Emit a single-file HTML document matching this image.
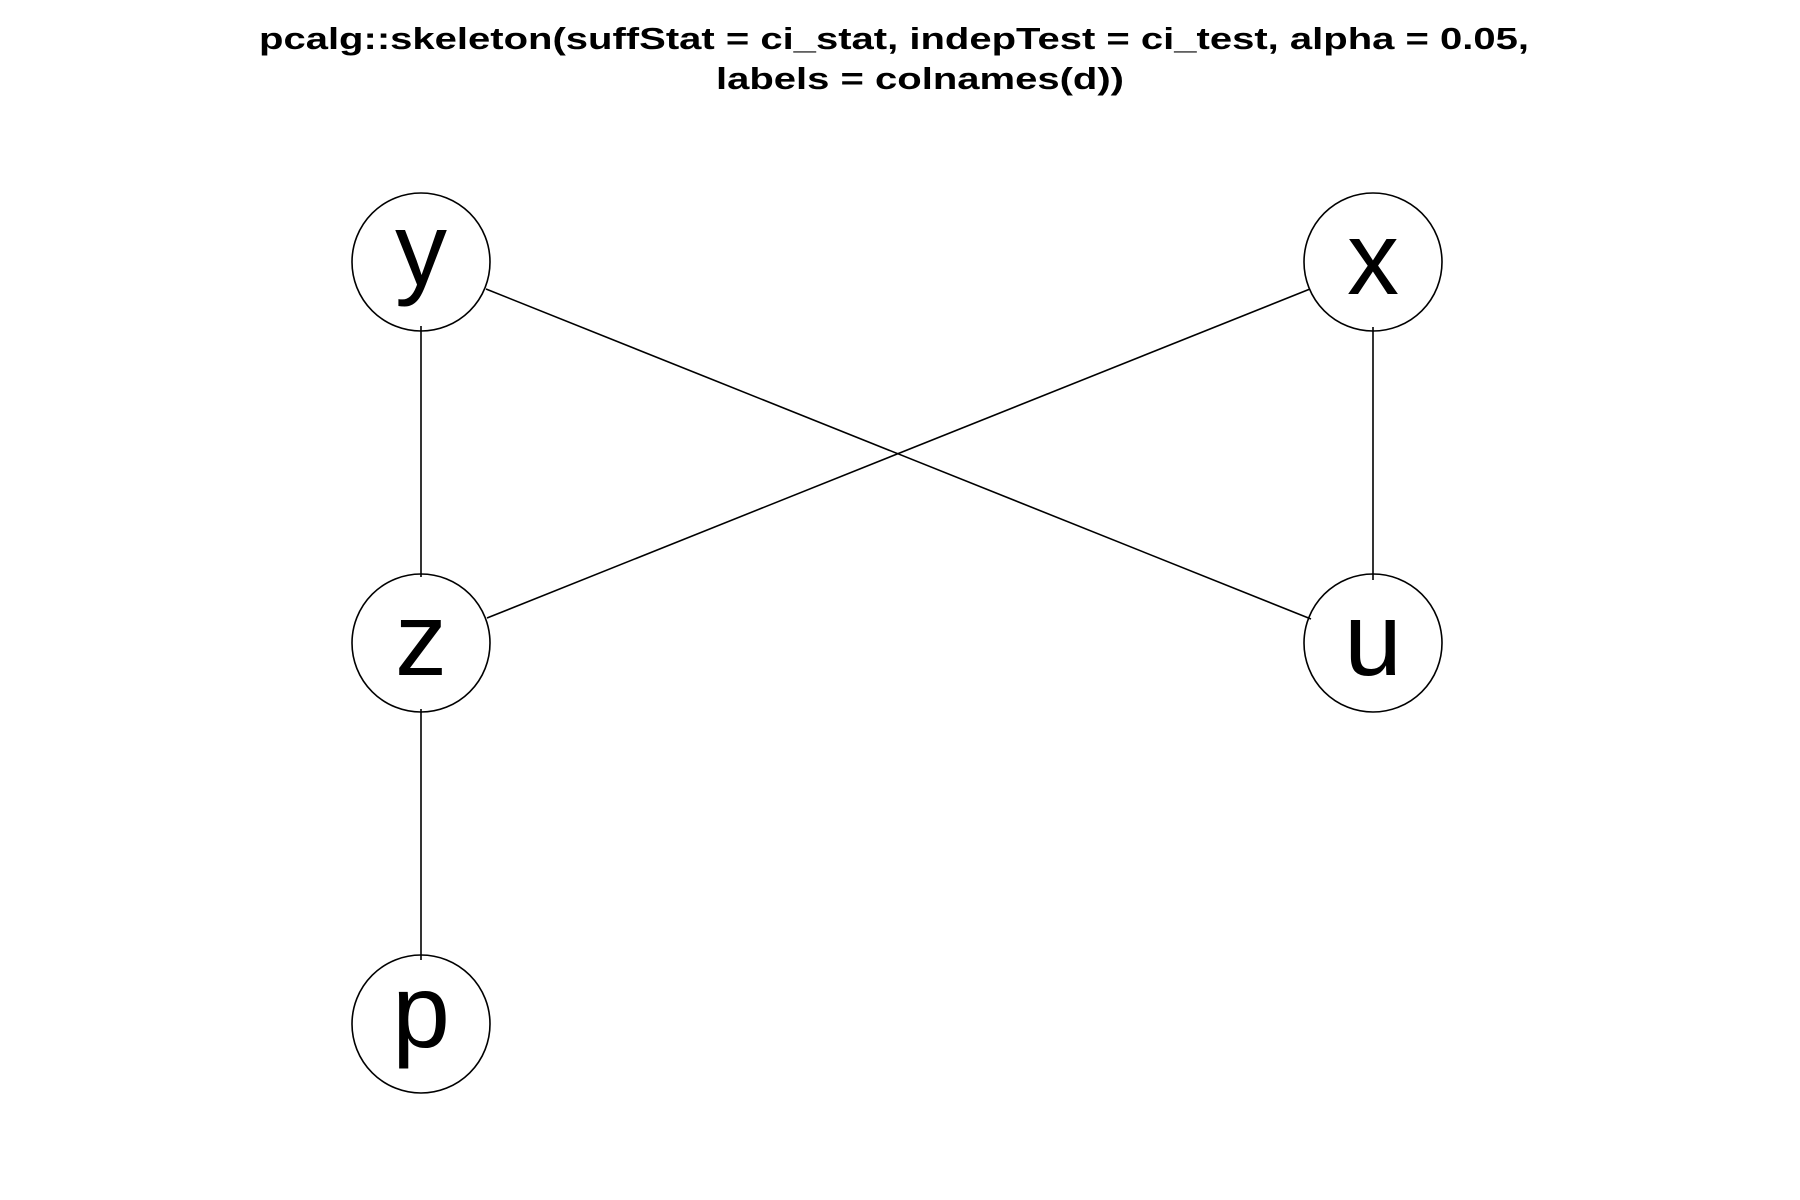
<!DOCTYPE html>
<html><head><style>html,body{margin:0;padding:0;background:#fff;}</style></head>
<body>
<svg width="1800" height="1200" xmlns="http://www.w3.org/2000/svg" style="display:block">
<rect width="1800" height="1200" fill="#fff"/>
<g font-family="Liberation Sans, Arial, sans-serif" font-weight="bold" font-size="31" text-anchor="middle" fill="#000">
<text x="894" y="49" textLength="1270" lengthAdjust="spacingAndGlyphs">pcalg::skeleton(suffStat = ci_stat, indepTest = ci_test, alpha = 0.05,</text>
<text x="920" y="89" textLength="408" lengthAdjust="spacingAndGlyphs">labels = colnames(d))</text>
</g>
<g stroke="#000" stroke-width="1.6" fill="none">
<line x1="421" y1="326" x2="421" y2="577"/>
<line x1="1373" y1="327" x2="1373" y2="580"/>
<line x1="421" y1="709" x2="421" y2="960"/>
<line x1="486" y1="289" x2="1311" y2="619"/>
<line x1="1310" y1="289" x2="487" y2="618"/>
<circle cx="421" cy="262" r="69"/>
<circle cx="1373" cy="262" r="69"/>
<circle cx="421" cy="643" r="69"/>
<circle cx="1373" cy="643" r="69"/>
<circle cx="421" cy="1024" r="69"/>
</g>
<g font-family="Liberation Sans, Arial, sans-serif" font-size="104" text-anchor="middle" fill="#000">
<text x="421" y="285">y</text>
<text x="1373" y="294">x</text>
<text x="421" y="675">z</text>
<text x="1373" y="675">u</text>
<text x="421" y="1047">p</text>
</g>
</svg>
</body></html>
